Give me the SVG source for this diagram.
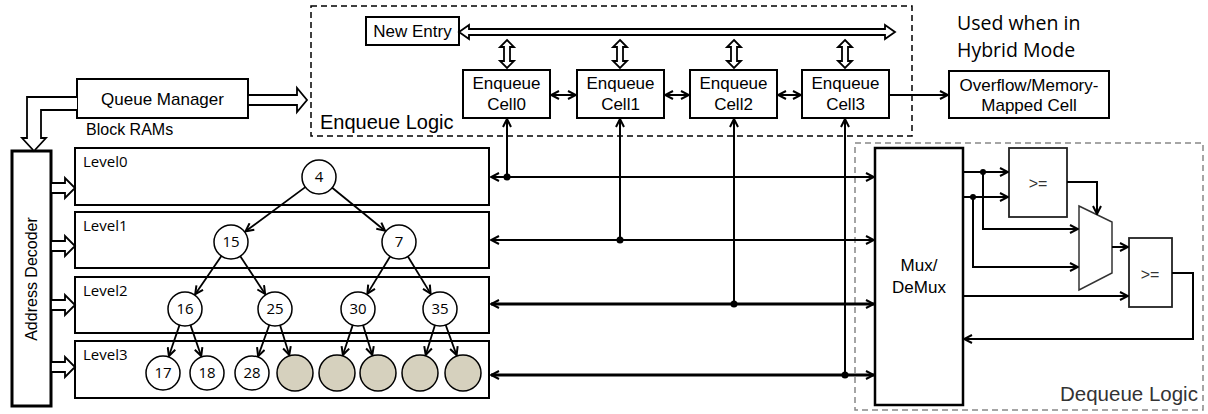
<svg xmlns="http://www.w3.org/2000/svg" width="1208" height="414" viewBox="0 0 1208 414">
<defs>
<style>
.bx{fill:#fff;stroke:#000;stroke-width:2}
.t{font-family:"Liberation Sans",Arial,sans-serif;font-size:17px;fill:#000}
.c{font-family:"Open Sans",sans-serif;fill:#000}
.ln{fill:none;stroke:#000;stroke-width:2}
.th{fill:none;stroke:#000;stroke-width:3}
.hol{fill:#fff;stroke:#000;stroke-width:1.8}
.nd{fill:#fff;stroke:#000;stroke-width:1.5}
.em{fill:#d6d1be;stroke:#000;stroke-width:1.5}
.tr{fill:none;stroke:#000;stroke-width:1.8}
.dot{fill:#000}
</style>
<marker id="oa" viewBox="0 0 10 10" refX="9" refY="5" markerWidth="10" markerHeight="10" markerUnits="userSpaceOnUse" orient="auto-start-reverse">
<path d="M1,1 L9,5 L1,9" fill="none" stroke="#000" stroke-width="2"/>
</marker>
<marker id="sa" viewBox="0 0 10 10" refX="9" refY="5" markerWidth="10" markerHeight="10" markerUnits="userSpaceOnUse" orient="auto-start-reverse">
<path d="M1,1 L9,5 L1,9" fill="none" stroke="#000" stroke-width="2"/>
</marker>
</defs>
<rect width="1208" height="414" fill="#fff"/>

<!-- Enqueue Logic region -->
<g id="enqueue-logic">
<rect x="311" y="6" width="601" height="130" fill="none" stroke="#000" stroke-width="1.5" stroke-dasharray="6,4"/>
<text class="t" x="320" y="129" style="font-size:20px">Enqueue Logic</text>
</g>
<g id="new-entry">
<rect class="bx" x="366" y="17" width="93" height="28"/>
<text class="t" x="412.5" y="37" text-anchor="middle">New Entry</text>
</g>
<g id="cell0"><rect class="bx" x="463" y="70" width="87" height="48"/><text class="t" x="506.5" y="89" text-anchor="middle">Enqueue</text><text class="t" x="506.5" y="110" text-anchor="middle">Cell0</text></g>
<g id="cell1"><rect class="bx" x="577" y="70" width="87" height="48"/><text class="t" x="620.5" y="89" text-anchor="middle">Enqueue</text><text class="t" x="620.5" y="110" text-anchor="middle">Cell1</text></g>
<g id="cell2"><rect class="bx" x="690" y="70" width="87" height="48"/><text class="t" x="733.5" y="89" text-anchor="middle">Enqueue</text><text class="t" x="733.5" y="110" text-anchor="middle">Cell2</text></g>
<g id="cell3"><rect class="bx" x="802" y="70" width="87" height="48"/><text class="t" x="845.5" y="89" text-anchor="middle">Enqueue</text><text class="t" x="845.5" y="110" text-anchor="middle">Cell3</text></g>
<g id="overflow">
<rect class="bx" x="949" y="71" width="160" height="47"/>
<text class="t" x="1029" y="91" text-anchor="middle">Overflow/Memory-</text>
<text class="t" x="1029" y="111" text-anchor="middle">Mapped Cell</text>
</g>
<g id="hybrid-note">
<text class="c" x="957" y="30" style="font-size:19.5px">Used when in</text>
<text class="c" x="957" y="57" style="font-size:19.5px">Hybrid Mode</text>
</g>
<g id="queue-manager">
<rect class="bx" x="77" y="79" width="171" height="39"/>
<text class="t" x="162.5" y="105" text-anchor="middle">Queue Manager</text>
</g>
<text class="t" x="86" y="135" style="font-size:16px">Block RAMs</text>
<g id="address-decoder">
<rect x="12" y="151" width="39" height="255" fill="#fff" stroke="#000" stroke-width="3"/>
<text class="t" transform="translate(37,279) rotate(-90)" text-anchor="middle" style="font-size:16px">Address Decoder</text>
</g>

<!-- Levels -->
<g id="level0"><rect class="bx" x="75" y="148" width="414" height="57"/><text class="c" x="83" y="167" style="font-size:15px">Level0</text></g>
<g id="level1"><rect class="bx" x="75" y="212" width="414" height="56"/><text class="c" x="83" y="231" style="font-size:15px">Level1</text></g>
<g id="level2"><rect class="bx" x="75" y="277" width="414" height="56"/><text class="c" x="83" y="296" style="font-size:15px">Level2</text></g>
<g id="level3"><rect class="bx" x="75" y="341" width="414" height="57"/><text class="c" x="83" y="360" style="font-size:15px">Level3</text></g>

<!-- Tree nodes -->
<g id="n4"><circle class="nd" cx="319" cy="177" r="17"/><text class="c" x="319" y="182" text-anchor="middle" style="font-size:15px">4</text></g>
<g id="n15"><circle class="nd" cx="231" cy="242" r="17"/><text class="c" x="231" y="247" text-anchor="middle" style="font-size:15px">15</text></g>
<g id="n7"><circle class="nd" cx="399" cy="242" r="17"/><text class="c" x="399" y="247" text-anchor="middle" style="font-size:15px">7</text></g>
<g id="n16"><circle class="nd" cx="185" cy="309" r="17"/><text class="c" x="185" y="314" text-anchor="middle" style="font-size:15px">16</text></g>
<g id="n25"><circle class="nd" cx="275" cy="309" r="17"/><text class="c" x="275" y="314" text-anchor="middle" style="font-size:15px">25</text></g>
<g id="n30"><circle class="nd" cx="358" cy="309" r="17"/><text class="c" x="358" y="314" text-anchor="middle" style="font-size:15px">30</text></g>
<g id="n35"><circle class="nd" cx="440" cy="309" r="17"/><text class="c" x="440" y="314" text-anchor="middle" style="font-size:15px">35</text></g>
<g id="n17"><circle class="nd" cx="163" cy="373" r="17"/><text class="c" x="163" y="378" text-anchor="middle" style="font-size:15px">17</text></g>
<g id="n18"><circle class="nd" cx="207" cy="373" r="17"/><text class="c" x="207" y="378" text-anchor="middle" style="font-size:15px">18</text></g>
<g id="n28"><circle class="nd" cx="252" cy="373" r="17"/><text class="c" x="252" y="378" text-anchor="middle" style="font-size:15px">28</text></g>
<g id="e1"><circle class="em" cx="295" cy="373" r="18"/></g>
<g id="e2"><circle class="em" cx="337" cy="373" r="18"/></g>
<g id="e3"><circle class="em" cx="378" cy="373" r="18"/></g>
<g id="e4"><circle class="em" cx="420" cy="373" r="18"/></g>
<g id="e5"><circle class="em" cx="463" cy="373" r="18"/></g>

<!-- Dequeue Logic -->
<g id="dequeue-logic">
<rect x="855" y="143" width="348" height="267" fill="none" stroke="#888" stroke-width="1.5" stroke-dasharray="6,4"/>
<text class="t" x="1060" y="401" style="font-size:20.5px;fill:#333">Dequeue Logic</text>
</g>
<g id="mux-demux">
<rect x="875" y="148" width="88" height="257" fill="#fff" stroke="#000" stroke-width="2.5"/>
<text class="t" x="919" y="271" text-anchor="middle">Mux/</text>
<text class="t" x="919" y="293" text-anchor="middle">DeMux</text>
</g>
<g id="cmp1">
<rect x="1009" y="148" width="58" height="69" fill="#fff" stroke="#222" stroke-width="1.8"/>
<text class="t" x="1038" y="189" text-anchor="middle" style="font-size:16px;fill:#333">&gt;=</text>
</g>
<g id="mux">
<polygon points="1079,206 1112,222 1112,273 1079,290" fill="#fff" stroke="#333" stroke-width="1.5"/>
</g>
<g id="cmp2">
<rect x="1129" y="238" width="43" height="69" fill="#fff" stroke="#222" stroke-width="1.8"/>
<text class="t" x="1150" y="280" text-anchor="middle" style="font-size:16px;fill:#333">&gt;=</text>
</g>

<!-- Connectors -->
<g id="connectors">
<path class="hol" d="M248,95 H297 V88 L307,100 L297,112 V105 H248 Z"/>
<path class="hol" d="M77,97 H27 V138 H22 L34,151 L46,138 H41 V110 H77"/>
<path class="hol" d="M51,183 H65 V178 L75,188 L65,198 V193 H51 Z"/>
<path class="hol" d="M51,241 H65 V236 L75,246 L65,256 V251 H51 Z"/>
<path class="hol" d="M51,300 H65 V295 L75,305 L65,315 V310 H51 Z"/>
<path class="hol" d="M51,362 H65 V357 L75,367 L65,377 V372 H51 Z"/>
<path class="hol" d="M459,32 L469,25 V29 H885 V25 L895,32 L885,39 V35 H469 V39 Z"/>
<path class="hol" d="M507,40 L514,47 H510 V61 H514 L507,68 L500,61 H504 V47 H500 Z"/>
<path class="hol" d="M620,40 L627,47 H623 V61 H627 L620,68 L613,61 H617 V47 H613 Z"/>
<path class="hol" d="M734,40 L741,47 H737 V61 H741 L734,68 L727,61 H731 V47 H727 Z"/>
<path class="hol" d="M845,40 L852,47 H848 V61 H852 L845,68 L838,61 H842 V47 H838 Z"/>
<path class="ln" d="M551,95 H576" marker-start="url(#oa)" marker-end="url(#oa)"/>
<path class="ln" d="M665,95 H689" marker-start="url(#oa)" marker-end="url(#oa)"/>
<path class="ln" d="M778,95 H801" marker-start="url(#oa)" marker-end="url(#oa)"/>
<path class="ln" d="M889,95 H948" marker-end="url(#oa)"/>
<path class="ln" d="M491,177 H874" marker-start="url(#oa)" marker-end="url(#oa)"/>
<path class="ln" d="M491,240 H874" marker-start="url(#oa)" marker-end="url(#oa)"/>
<path class="th" d="M491,304 H874" marker-start="url(#oa)" marker-end="url(#oa)"/>
<path class="th" d="M491,375 H874" marker-start="url(#oa)" marker-end="url(#oa)"/>
<path class="ln" d="M507,177 V119" marker-end="url(#oa)"/>
<path class="ln" d="M620,240 V119" marker-end="url(#oa)"/>
<path class="ln" d="M734,304 V119" marker-end="url(#oa)"/>
<path class="ln" d="M845,375 V119" marker-end="url(#oa)"/>
<circle class="dot" cx="507" cy="177" r="3.5"/>
<circle class="dot" cx="620" cy="240" r="3.5"/>
<circle class="dot" cx="734" cy="304" r="3.5"/>
<circle class="dot" cx="845" cy="375" r="3.5"/>
<path class="tr" d="M305.3,187.1 L245.5,231.3" marker-end="url(#sa)"/>
<path class="tr" d="M332.2,187.7 L385,230.7" marker-end="url(#sa)"/>
<path class="tr" d="M221.4,256 L195.2,294.2" marker-end="url(#sa)"/>
<path class="tr" d="M240.3,256.2 L265.1,294" marker-end="url(#sa)"/>
<path class="tr" d="M390.1,256.5 L367.4,293.6" marker-end="url(#sa)"/>
<path class="tr" d="M407.9,256.5 L430.6,293.6" marker-end="url(#sa)"/>
<path class="tr" d="M179.5,325.1 L168.9,356" marker-end="url(#sa)"/>
<path class="tr" d="M190.5,325.1 L201.2,356" marker-end="url(#sa)"/>
<path class="tr" d="M269.3,325 L258.1,356.1" marker-end="url(#sa)"/>
<path class="tr" d="M280.1,325.2 L289.3,354.9" marker-end="url(#sa)"/>
<path class="tr" d="M352.7,325.1 L342.9,355" marker-end="url(#sa)"/>
<path class="tr" d="M363.1,325.2 L372.3,354.9" marker-end="url(#sa)"/>
<path class="tr" d="M434.9,325.2 L425.7,354.9" marker-end="url(#sa)"/>
<path class="tr" d="M445.7,325 L456.6,355.1" marker-end="url(#sa)"/>
<path class="ln" d="M963,172 H1008" marker-end="url(#oa)"/>
<path class="ln" d="M963,197 H1008" marker-end="url(#oa)"/>
<path class="ln" d="M983,172 V229 H1078" marker-end="url(#oa)"/>
<path class="ln" d="M973,197 V267 H1078" marker-end="url(#oa)"/>
<path class="ln" d="M1067,182 H1097 V214" marker-end="url(#oa)"/>
<path class="ln" d="M1112,247 H1128" marker-end="url(#oa)"/>
<path class="ln" d="M963,296 H1128" marker-end="url(#oa)"/>
<path class="ln" d="M1172,273 H1193 V339 H964" marker-end="url(#oa)"/>
<circle class="dot" cx="983" cy="172" r="3"/>
<circle class="dot" cx="973" cy="197" r="3"/>
</g>
</svg>
